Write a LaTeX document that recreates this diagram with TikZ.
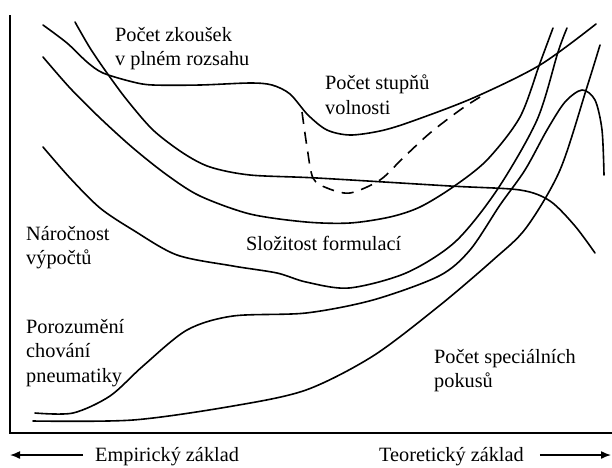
\documentclass[tikz,border=0pt]{standalone}
\usepackage{fontspec}
\setmainfont{Liberation Serif}
\usetikzlibrary{arrows.meta,positioning}

\tikzset{
    curve/.style={line width=1.6pt, line join=round, line cap=round},
    lbl/.style={font=\fontsize{20.3}{24.5}\selectfont, align=left, inner sep=0pt},
    axarrow/.style={line width=1.5pt, -{Latex[length=10pt,width=8pt]}}
}

\begin{document}
\begin{tikzpicture}[x=1pt, y=-1pt]
    \useasboundingbox (0,0) rectangle (612,467);

    % Frame
    \draw[line width=2pt] (10,15) -- (10,433) -- (612,433);

    % Upper curves
    \draw[curve] plot[smooth] coordinates {(43,25) (67,43) (87,62) (103,73) (133,82) (153,85)
        (200,85) (250,83) (272,85) (290,94) (308,115) (327,130) (350,135) (380,131) (410,122)
        (473,98) (540,65) (596,24)};
    \draw[curve] plot[smooth] coordinates {(75,22) (90,48) (107,73) (127,100) (153,130) (183,153)
        (210,167) (250,175) (317,178) (450,186) (520,190) (550,201) (575,226) (595,253)};
    \draw[curve] plot[smooth] coordinates {(43,57) (70,88) (100,118) (133,148) (167,175) (200,196)
        (250,214) (306,222) (350,223) (390,217) (420,207) (453,187) (487,160) (520,117)
        (540,63) (553,28)};
    \draw[curve] plot[smooth] coordinates {(43,147) (70,178) (100,208) (133,230) (177,255) (233,266)
        (277,273) (306,282) (349,288) (406,273) (455,242) (497,190) (537,120) (558,52) (567,28)};

    % Dashed branch
    \draw[curve, line cap=butt, dash pattern=on 12pt off 8pt] plot[smooth] coordinates {(302,112)
        (307,147) (313,178) (327,188) (350,193) (380,180) (403,158) (430,133) (460,110) (480,97)};

    % Lower curves
    \draw[curve] plot[smooth] coordinates {(35,413) (73,413) (110,396) (143,366) (187,330) (233,316)
        (306,313) (373,300) (439,276) (470,250) (500,205) (525,170) (547,130) (565,102)
        (582,90) (595,100) (602,130) (604,175)};
    \draw[curve] plot[smooth] coordinates {(33,421) (133,420) (233,406) (306,390) (373,356)
        (439,306) (493,260) (526,228) (560,170) (587,87) (600,45)};

    % Labels
    \node[lbl, anchor=north west] (zkousky) at (115,27) {Počet zkoušek\\v plném rozsahu};
    \node[lbl, anchor=north west] (stupne) at (325,75) {Počet stupňů\\volnosti};
    \node[lbl, anchor=north west] (narocnost) at (26,226) {Náročnost\\výpočtů};
    \node[lbl, anchor=base west] (slozitost) at (246,250) {Složitost formulací};
    \node[lbl, anchor=north west] (porozumeni) at (26,319) {Porozumění\\chování\\pneumatiky};
    \node[lbl, anchor=north west] (pokusy) at (434,349) {Počet speciálních\\pokusů};

    % Axis captions
    \node[lbl, anchor=base west] (empir) at (95,461) {Empirický základ};
    \node[lbl, anchor=base west] (teor) at (379,461) {Teoretický základ};
    \coordinate (ltip) at (10,455);
    \coordinate (rtip) at (611,455);
    \draw[axarrow] (ltip -| empir.west) ++(-12,0) -- (ltip);
    \draw[axarrow] (rtip -| teor.east) ++(16,0) -- (rtip);

\end{tikzpicture}
\end{document}
